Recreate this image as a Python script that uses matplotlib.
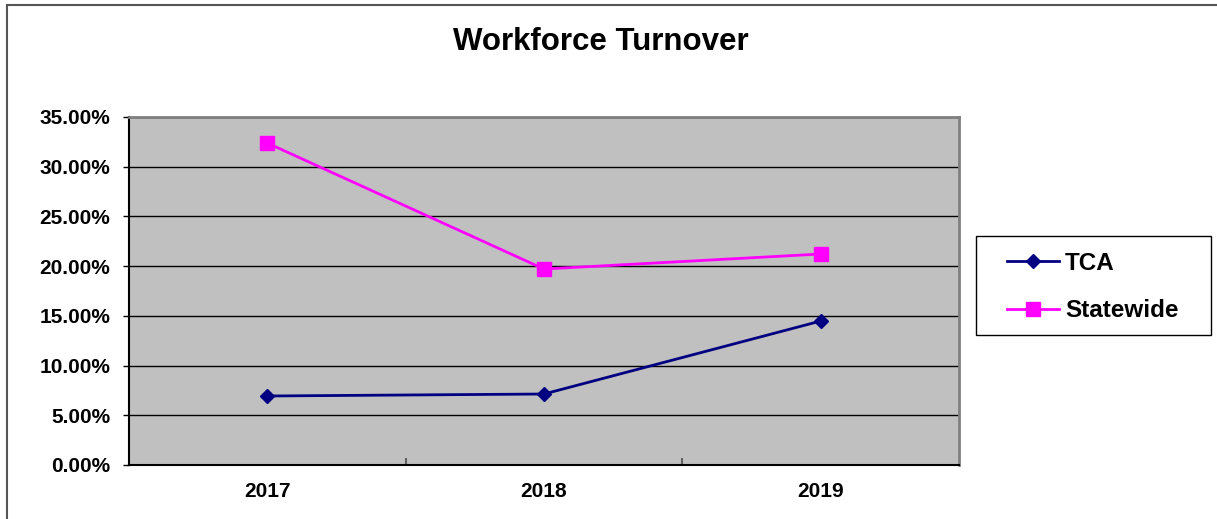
import numpy as np
import matplotlib.pyplot as plt
from matplotlib.patches import Rectangle
from matplotlib.lines import Line2D
from matplotlib.ticker import PercentFormatter

# data
years = ['2017', '2018', '2019']
tca = [6.94, 7.14, 14.48]
statewide = [32.38, 19.71, 21.22]

plt.rcParams['font.family'] = ['Liberation Sans', 'DejaVu Sans']
plt.rcParams['font.weight'] = 'bold'

W, H = 1217, 519
fig = plt.figure(figsize=(W / 100, H / 100), dpi=100)

# plot area in pixels
left, right, top, bottom = 129, 959, 117, 465
ax = fig.add_axes([left / W, 1 - bottom / H, (right - left) / W, (bottom - top) / H])
ax.set_facecolor('#C0C0C0')

x = np.arange(len(years))
ax.plot(x, tca, color='#000080', lw=2, marker='D', ms=7.5, label='TCA', zorder=3)
ax.plot(x, statewide, color='#FF00FF', lw=2, marker='s', ms=10.5, label='Statewide', zorder=3)

ax.set_xlim(-0.5, len(years) - 0.5)
ax.set_ylim(0, 35)
ax.set_yticks(np.arange(0, 36, 5))
ax.yaxis.set_major_formatter(PercentFormatter(decimals=2))
ax.grid(axis='y', color='black', lw=1)
ax.set_axisbelow(True)

ax.set_xticks(x)
ax.set_xticklabels(years)
ax.set_xticks([0.5, 1.5], minor=True)
ax.tick_params(axis='x', which='major', length=0, pad=12, labelsize=15)
ax.tick_params(axis='x', which='minor', direction='in', length=5, color='#606060', width=1.5)
ax.tick_params(axis='y', length=4.5, width=1, pad=9, labelsize=15)

for s in ['top', 'right']:
    ax.spines[s].set_color('#808080')
    ax.spines[s].set_linewidth(2)
for s in ['left', 'bottom']:
    ax.spines[s].set_color('black')
    ax.spines[s].set_linewidth(1.5)

fig.text(601 / W, 1 - 50 / H, 'Workforce Turnover', ha='center', va='baseline',
         fontsize=22.5, fontweight='bold')

# legend with a hand-drawn frame
fig.patches.append(Rectangle((976 / W, 1 - 335 / H), (1211 - 976) / W, (335 - 236) / H,
                             transform=fig.transFigure, fill=False, edgecolor='black', lw=1))
fig.legend(loc='upper left', bbox_to_anchor=(1007 / W, 1 - 252 / H), frameon=False,
           fontsize=17.5, borderpad=0, borderaxespad=0, handlelength=2.14,
           handletextpad=0.25, labelspacing=1.0)

# outer chart border (top and left visible)
fig.lines.append(Line2D([7 / W, 7 / W], [0, 1 - 5 / H], transform=fig.transFigure,
                        color='#555555', lw=1.5))
fig.lines.append(Line2D([7 / W, 1], [1 - 5 / H, 1 - 5 / H], transform=fig.transFigure,
                        color='#555555', lw=1.5))

plt.savefig('out.png', dpi=100)
